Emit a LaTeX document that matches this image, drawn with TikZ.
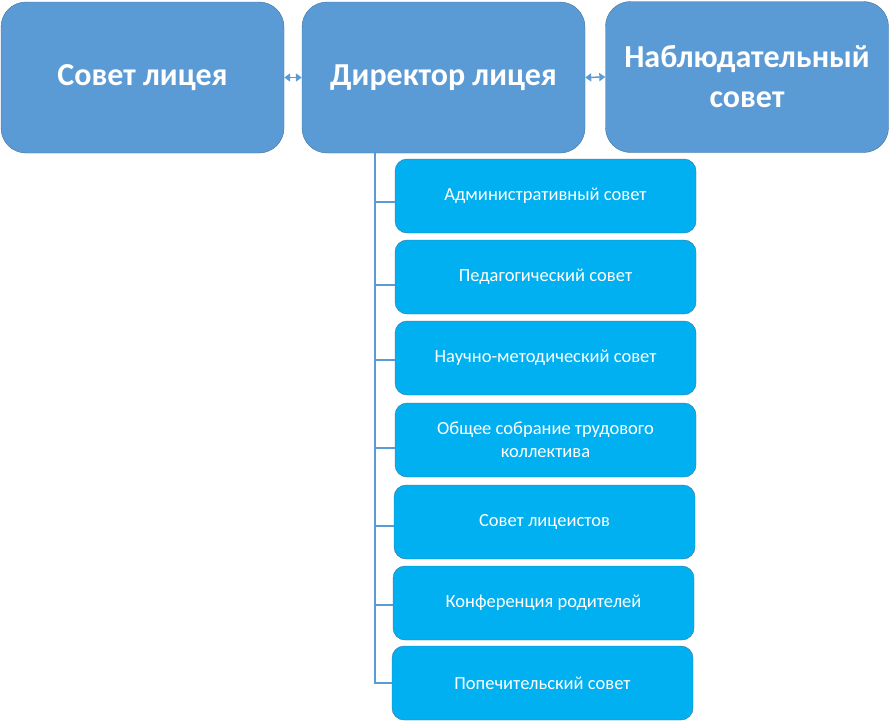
\documentclass[tikz,border=0pt]{standalone}
\usepackage{fontspec}
\setmainfont{Carlito}
\usetikzlibrary{arrows.meta}
\definecolor{topblue}{HTML}{5B9BD5}
\definecolor{subblue}{HTML}{00B0F0}
\definecolor{edgeblue}{HTML}{41719C}
\begin{document}
\begin{tikzpicture}[x=1pt,y=-1pt,
    topbox/.style={draw=edgeblue, fill=topblue, rounded corners=25pt, text=white,
        minimum width=283pt, minimum height=151pt, align=center,
        font=\fontsize{32}{40}\selectfont\bfseries},
    subbox/.style={draw=edgeblue, fill=subblue, rounded corners=12pt, text=white,
        minimum width=301pt, minimum height=74pt, align=center,
        font=\fontsize{18.5}{23}\selectfont},
    link/.style={draw=topblue, line width=2pt},
    twoway/.style={draw=topblue, line width=1.5pt,
        {Triangle[length=6pt,width=8pt]}-{Triangle[length=6pt,width=8pt]}}]
    \useasboundingbox (0,0) rectangle (892,723);

    % Верхний ряд
    \node[topbox] (council) at (142.5,77.5) {Совет лицея};
    \node[topbox] (director) at (443.5,77.5) {Директор лицея};
    \node[topbox] (board) at (747,77) {Наблюдательный\\совет};

    % Стрелки между блоками
    \draw[twoway] (council.east) -- (director.west);
    \draw[twoway] (director.east) -- (board.west);

    % Органы управления
    \foreach \i/\x/\y/\txt in {1/545.5/196/Административный совет,
                               2/545.5/277/Педагогический совет,
                               3/545.5/358/Научно-методический совет,
                               4/545.5/440/{Общее собрание трудового\\коллектива},
                               5/544.5/522/Совет лицеистов,
                               6/543.5/603/Конференция родителей,
                               7/542.5/683/Попечительский совет} {
        \node[subbox] (sub\i) at (\x,\y) {\txt};
    }

    % Вертикальная линия и ответвления
    \coordinate (trunk) at (375,153);
    \draw[link] (trunk) |- (sub7.west);
    \foreach \i/\dy in {1/6,2/8,3/2,4/8,5/4,6/2} {
        \draw[link] ([yshift=-\dy pt]trunk |- sub\i.west) -- ([yshift=-\dy pt]sub\i.west);
    }
\end{tikzpicture}
\end{document}
